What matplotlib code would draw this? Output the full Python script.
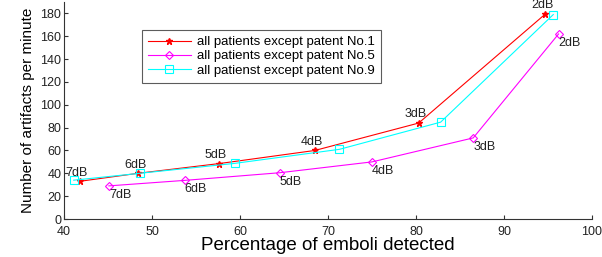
import matplotlib
matplotlib.use('Agg')
import matplotlib.pyplot as plt

plt.rcParams['font.family'] = ['Liberation Sans', 'DejaVu Sans']

db_labels = ['7dB', '6dB', '5dB', '4dB', '3dB', '2dB']

x_p1 = [41.8, 48.4, 57.6, 68.5, 80.3, 94.7]
y_p1 = [33, 40, 48.5, 60, 84, 179.5]

x_p5 = [45.1, 53.7, 64.5, 75.0, 86.5, 96.2]
y_p5 = [29, 33.8, 40.5, 50, 71, 162]

x_p9 = [41.1, 48.6, 59.4, 71.3, 82.8, 95.6]
y_p9 = [34, 40, 48.7, 61, 84.8, 179]

names = ['all patients except patent No.1',
         'all patients except patent No.5',
         'all patienst except patent No.9']

fig = plt.figure(figsize=(6.02, 2.57), dpi=100)
ax = fig.add_axes([64/602, 38/257, 528/602, 217/257])

ax.plot(x_p1, y_p1, color='#ff0000', lw=0.8, marker='*', ms=5, label=names[0])
ax.plot(x_p5, y_p5, color='#ff00ff', lw=0.8, marker='D', ms=4.5, mfc='none', mew=0.8, label=names[1])
ax.plot(x_p9, y_p9, color='#00ffff', lw=0.8, marker='s', ms=5.5, mfc='none', mew=0.8, label=names[2])

for xi, yi, t in zip(x_p1, y_p1, db_labels):
    ax.annotate(t, (xi, yi), xytext=(6, 2), textcoords='offset points',
                ha='right', va='bottom', fontsize=9, color='#222222')
for xi, yi, t in zip(x_p5, y_p5, db_labels):
    ax.annotate(t, (xi, yi), xytext=(0, -2), textcoords='offset points',
                ha='left', va='top', fontsize=9, color='#222222')

ax.set_xlim(40, 100)
ax.set_ylim(0, 190)
ax.set_xticks(range(40, 101, 10))
ax.set_yticks(range(0, 181, 20))
ax.spines['top'].set_visible(False)
ax.spines['right'].set_visible(False)
ax.spines['left'].set_color('#333333')
ax.spines['bottom'].set_color('#333333')
ax.tick_params(direction='in', length=3, labelsize=9, colors='#333333', labelcolor='#222222', pad=2)
ax.tick_params(axis='x', pad=5)

ax.set_xlabel('Percentage of emboli detected', fontsize=13.5, labelpad=-1)
ax.set_ylabel('Number of artifacts per minute', fontsize=11, labelpad=4)

leg = ax.legend(loc='upper left', bbox_to_anchor=(142/602, 1 - 30/257),
                bbox_transform=fig.transFigure, fontsize=9.5, frameon=True,
                fancybox=False, handlelength=3.25, borderpad=0.45,
                labelspacing=0.15, handletextpad=0.45, borderaxespad=0)
leg.get_frame().set_edgecolor('#333333')
leg.get_frame().set_linewidth(0.8)

fig.savefig('out.png', dpi=100)
